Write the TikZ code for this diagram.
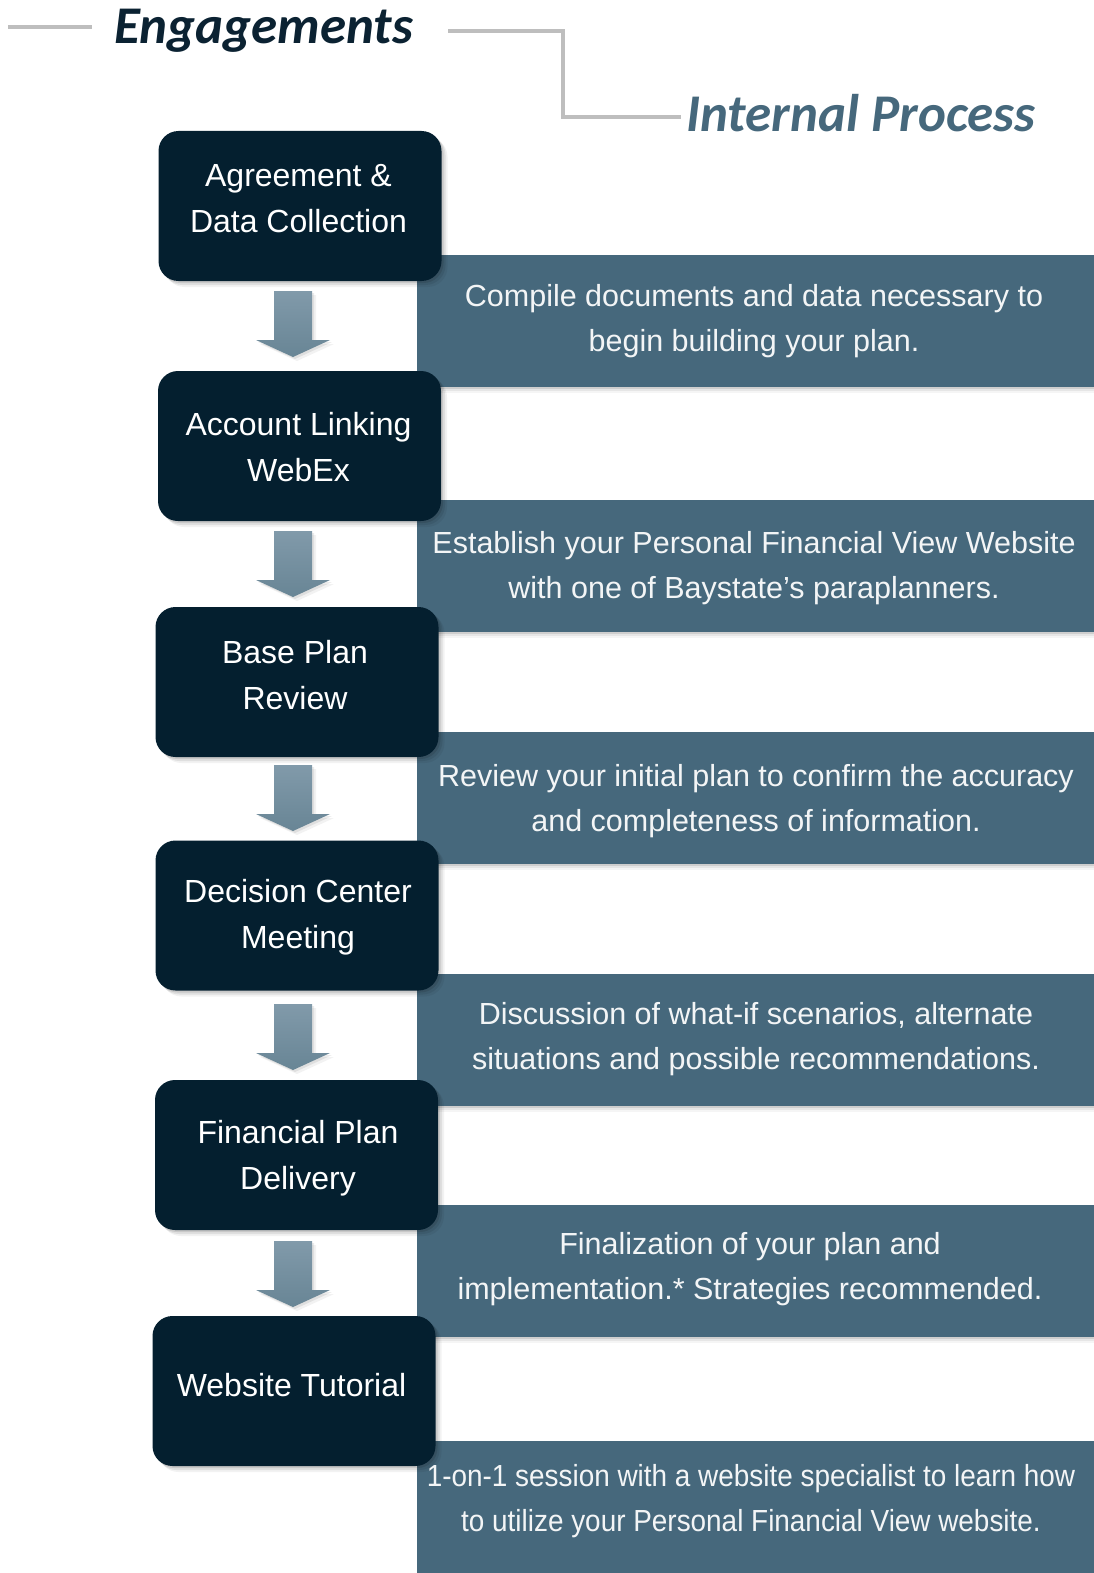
\documentclass[tikz,border=0pt]{standalone}
\usepackage{graphicx}
\usepackage{fontspec}
\setmainfont{Liberation Sans}
\newfontfamily\headfont{Carlito}
\usetikzlibrary{shadows}
\definecolor{navy}{HTML}{041F2F}
\definecolor{bandc}{HTML}{46687C}
\definecolor{arrowtop}{HTML}{819AAA}
\definecolor{arrowbot}{HTML}{688595}
\definecolor{rulec}{HTML}{BEBEBE}
\definecolor{headdark}{HTML}{0B2232}
\definecolor{bandtextc}{HTML}{F3F5F6}
\tikzset{
  softshadow/.style={
    general shadow={fill=black, opacity=0.10, shadow xshift=2pt, shadow yshift=-2pt},
    general shadow={fill=black, opacity=0.08, shadow xshift=4pt, shadow yshift=-4pt},
    general shadow={fill=black, opacity=0.05, shadow xshift=6pt, shadow yshift=-6pt}},
  bandshadow/.style={
    general shadow={fill=black, opacity=0.10, shadow yshift=-2pt},
    general shadow={fill=black, opacity=0.06, shadow yshift=-4pt},
    general shadow={fill=black, opacity=0.04, shadow yshift=-6pt}},
  stepbox/.style={rectangle, rounded corners=20pt, fill=navy, minimum width=283pt,
    minimum height=150pt, inner sep=0pt, softshadow},
  boxtext/.style={text=white, font=\fontsize{32}{46}\selectfont, align=center, inner sep=0pt},
  bandbox/.style={rectangle, fill=bandc, minimum width=677pt, minimum height=132pt,
    inner sep=0pt, anchor=north west, bandshadow},
  bandtext/.style={text=bandtextc, font=\fontsize{30.5}{45}\selectfont, align=center, inner sep=0pt},
  blockarrow/.style={top color=arrowtop, bottom color=arrowbot,
    general shadow={fill=black, opacity=0.08, shadow xshift=2pt, shadow yshift=-2pt},
    general shadow={fill=black, opacity=0.05, shadow xshift=4pt, shadow yshift=-4pt}},
  rule/.style={draw=rulec, line width=4pt},
  heading/.style={font=\headfont\bfseries\itshape\fontsize{53}{60}\selectfont, anchor=base west, inner sep=0pt}
}
\begin{document}
\begin{tikzpicture}[x=1pt, y=-1pt]
\fill[white] (0,0) rectangle (1093,1573);
\useasboundingbox (0,0) rectangle (1093,1573);

% header
\coordinate (l1) at (8,27);
\coordinate (l2) at (92,27);
\coordinate (r1) at (448,31);
\coordinate (r2) at (563,31);
\coordinate (r3) at (563,117);
\coordinate (r4) at (681,117);
\draw[rule] (l1) -- (l2);
\draw[rule] (r1) -- (r2) -- (r3) -- (r4);
\node[heading, text=headdark] (eng) at (114,44) {Engagements};
\node[heading, text=bandc] (ip) at (686,132) {Internal Process};

% bands
\node[bandbox] (band1) at (416.5,254.7) {};
\node[bandbox] (band2) at (416.5,500) {};
\node[bandbox] (band3) at (416.5,732) {};
\node[bandbox] (band4) at (416.5,974) {};
\node[bandbox] (band5) at (416.5,1205) {};
\node[bandbox, minimum height=150pt] (band6) at (416.5,1441) {};

% arrows
\coordinate (a1) at (293,291);
\coordinate (a2) at (293,531);
\coordinate (a3) at (293,765);
\coordinate (a4) at (293,1004);
\coordinate (a5) at (293,1241);
\foreach \a in {a1,a2,a3,a4,a5}{
  \path[blockarrow, shift={(\a)}] (-19,0) -- (19,0) -- (19,49) -- (37,49) -- (0,66) -- (-37,49) -- (-19,49) -- cycle;
}

% boxes
\node[stepbox] (b1) at (300,206) {};
\node[stepbox] (b2) at (299.5,446) {};
\node[stepbox] (b3) at (297,682) {};
\node[stepbox] (b4) at (297,915.5) {};
\node[stepbox] (b5) at (296.5,1155) {};
\node[stepbox] (b6) at (294,1391) {};

\node[boxtext] (b1t) at (298.5,198.5) {Agreement \&\\Data Collection};
\node[boxtext] (b2t) at (298.5,447) {Account Linking\\WebEx};
\node[boxtext] (b3t) at (295,675) {Base Plan\\Review};
\node[boxtext] (b4t) at (298,917) {Decision Center\\Meeting};
\node[boxtext] (b5t) at (298,1158.5) {Financial Plan\\Delivery};
\node[boxtext] (b6t) at (291.5,1385) {Website Tutorial};

% band texts
\node[bandtext] (t1) at (754,321.5) {Compile documents and data necessary to\\begin building your plan.};
\node[bandtext] (t2) at (754,568) {Establish your Personal Financial View Website\\with one of Baystate’s paraplanners.};
\node[bandtext] (t3) at (756,801.5) {Review your initial plan to confirm the accuracy\\and completeness of information.};
\node[bandtext] (t4) at (756,1039) {Discussion of what-if scenarios, alternate\\situations and possible recommendations.};
\node[bandtext] (t5) at (750,1269) {Finalization of your plan and\\implementation.* Strategies recommended.};
\node[bandtext] (t6) at (751,1501) {\scalebox{0.915}[1]{1-on-1 session with a website specialist to learn how}\\\scalebox{0.915}[1]{to utilize your Personal Financial View website.}};
\end{tikzpicture}
\end{document}
